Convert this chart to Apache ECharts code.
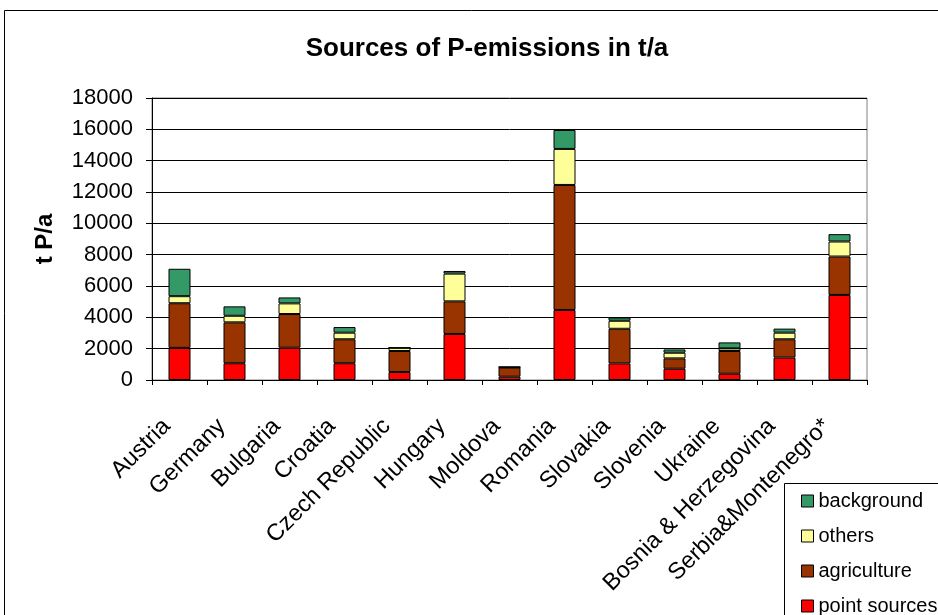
<!DOCTYPE html>
<html>
<head>
<meta charset="utf-8">
<script src="https://cdn.jsdelivr.net/npm/echarts@6/dist/echarts.min.js"></script>
<style>html,body{margin:0;padding:0;background:#fff;}#c{width:938px;height:615px;}</style>
</head>
<body>
<div id="c"></div>
<script>
const categories = ['Austria','Germany','Bulgaria','Croatia','Czech Republic','Hungary','Moldova','Romania','Slovakia','Slovenia','Ukraine','Bosnia & Herzegovina','Serbia&Montenegro*'];
const pointSources = [2050, 1070, 2060, 1070, 510, 2940, 210, 4470, 1060, 720, 400, 1430, 5430];
const agriculture  = [2850, 2610, 2150, 1530, 1340, 2080, 580, 7980, 2210, 660, 1450, 1170, 2450];
const others       = [450, 420, 680, 420, 210, 1770, 30, 2300, 510, 360, 170, 420, 960];
const background   = [1750, 600, 380, 360, 0, 170, 20, 1210, 210, 210, 380, 260, 470];
const yTicks = {min: 0, max: 18000, interval: 2000};

const FONT = "'Liberation Sans', Arial, sans-serif";
const chart = echarts.init(document.getElementById('c'), null, {renderer: 'canvas'});
function ser(name, data, color) {
  return {
    name: name, type: 'bar', stack: 'total', data: data, barWidth: 22,
    itemStyle: {color: color, borderColor: '#000', borderWidth: 1},
    emphasis: {disabled: true}, animation: false
  };
}
chart.setOption({
  animation: false,
  backgroundColor: '#fff',
  title: {
    text: 'Sources of P-emissions in t/a', left: 482, top: 31, textAlign: 'center',
    textStyle: {fontFamily: FONT, fontWeight: 'bold', fontSize: 26, color: '#000'}
  },
  graphic: [
    {type: 'rect', shape: {x: 4.5, y: 10.5, width: 1000, height: 700}, style: {fill: 'none', stroke: '#000', lineWidth: 1}, z: -1},
    {type: 'rect', shape: {x: 784.5, y: 483.5, width: 300, height: 300}, style: {fill: '#fff', stroke: '#000', lineWidth: 1}, z: 5}
  ],
  legend: {
    orient: 'vertical', left: 796, top: 486, height: 400,
    data: ['background', 'others', 'agriculture', 'point sources'],
    itemWidth: 12, itemHeight: 12, itemGap: 15, icon: 'rect',
    itemStyle: {borderColor: '#000', borderWidth: 1},
    textStyle: {fontFamily: FONT, fontSize: 20, color: '#000'},
    selectedMode: false, z: 10
  },
  grid: {left: 152, top: 98, width: 715, height: 282, show: true, borderColor: '#808080', borderWidth: 1, containLabel: false},
  xAxis: {
    type: 'category', data: categories, boundaryGap: true,
    axisLine: {lineStyle: {color: '#000', width: 1}},
    axisTick: {show: true, interval: 0, length: 5, lineStyle: {color: '#000'}},
    axisLabel: {interval: 0, rotate: 45, fontFamily: FONT, fontSize: 23.5, color: '#000', margin: 13,
      align: 'right', verticalAlign: 'top', padding: [0, 30, 0, 0]},
    splitLine: {show: false}
  },
  yAxis: {
    type: 'value', min: yTicks.min, max: yTicks.max, interval: yTicks.interval,
    name: 't P/a', nameLocation: 'middle', nameRotate: 90, nameGap: 95,
    nameTextStyle: {fontFamily: FONT, fontWeight: 'bold', fontSize: 24, color: '#000'},
    axisLine: {show: true, lineStyle: {color: '#000', width: 1}},
    axisTick: {show: true, length: 6, lineStyle: {color: '#000'}},
    axisLabel: {fontFamily: FONT, fontSize: 22, color: '#000', margin: 19, formatter: function (v) { return String(v); }},
    splitLine: {show: true, lineStyle: {color: '#000', width: 1}}
  },
  series: [
    ser('point sources', pointSources, '#FF0000'),
    ser('agriculture', agriculture, '#993300'),
    ser('others', others, '#FFFF99'),
    ser('background', background, '#339966')
  ]
});
</script>
</body>
</html>
